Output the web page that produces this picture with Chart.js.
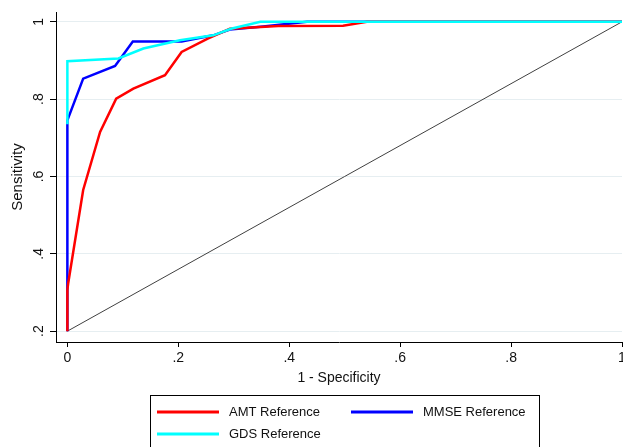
<!DOCTYPE html>
<html>
<head>
<meta charset="utf-8">
<script src="https://cdn.jsdelivr.net/npm/chart.js@4/dist/chart.umd.min.js"></script>
<style>
  body { margin: 0; background: #fff; }
</style>
</head>
<body>
<canvas id="roc" width="623" height="447"></canvas>
<script>
// ROC curves (1 - specificity, sensitivity)
const amtX = [0, 0, 0.0015, 0.0285, 0.059, 0.088, 0.119, 0.176, 0.206, 0.254, 0.293, 0.38, 0.497, 0.54, 1];
const amtY = [0.2, 0.306, 0.324, 0.565, 0.715, 0.801, 0.827, 0.862, 0.922, 0.957, 0.982, 0.989, 0.99, 1, 1];

const mmseX = [0, 0, 0.0285, 0.086, 0.118, 0.206, 0.263, 0.293, 0.353, 0.432, 1];
const mmseY = [0.2, 0.745, 0.853, 0.886, 0.949, 0.949, 0.965, 0.98, 0.988, 1, 1];

const gdsX = [0, 0, 0.092, 0.137, 0.203, 0.263, 0.295, 0.348, 1];
const gdsY = [0.735, 0.898, 0.905, 0.931, 0.952, 0.965, 0.982, 1, 1];

// reference diagonal
const refX = [0, 1];
const refY = [0.2, 1];

const seriesLabels = ['AMT Reference', 'MMSE Reference', 'GDS Reference'];
const tickFmt = v => (v === 0 ? '0' : v === 1 ? '1' : v.toFixed(1).replace(/^0/, ''));

const toPoints = (xs, ys) => xs.map((x, i) => ({ x, y: ys[i] }));

Chart.defaults.font.family = '"Liberation Sans", Arial, sans-serif';
Chart.defaults.color = '#111';

// Stata-style boxed legend under the plot
const boxLegend = {
  id: 'boxLegend',
  afterDraw(chart) {
    const ctx = chart.ctx;
    ctx.save();
    ctx.strokeStyle = '#000';
    ctx.lineWidth = 1;
    ctx.strokeRect(150.5, 395.5, 389, 60);

    const slots = [[157, 412], [351, 412], [157, 434]];
    ctx.font = '13px "Liberation Sans", Arial, sans-serif';
    ctx.textBaseline = 'middle';
    ctx.fillStyle = '#111';
    chart.data.datasets.filter(d => d.inLegend).forEach((ds, i) => {
      const [x, y] = slots[i];
      ctx.strokeStyle = ds.borderColor;
      ctx.lineWidth = 3;
      ctx.beginPath();
      ctx.moveTo(x, y);
      ctx.lineTo(x + 62, y);
      ctx.stroke();
      ctx.fillText(ds.label, x + 72, y);
    });
    ctx.restore();
  }
};

new Chart(document.getElementById('roc'), {
  type: 'scatter',
  data: {
    datasets: [
      { label: seriesLabels[0], data: toPoints(amtX, amtY), borderColor: '#ff0000', order: 2, inLegend: true },
      { label: seriesLabels[1], data: toPoints(mmseX, mmseY), borderColor: '#0000ff', order: 3, inLegend: true },
      { label: seriesLabels[2], data: toPoints(gdsX, gdsY), borderColor: '#00ffff', order: 1, inLegend: true },
      { label: 'Reference', data: toPoints(refX, refY), borderColor: '#404040', borderWidth: 1, order: 4, inLegend: false }
    ].map(d => ({
      showLine: true,
      pointRadius: 0,
      tension: 0,
      borderWidth: 2.5,
      backgroundColor: d.borderColor,
      ...d
    }))
  },
  options: {
    responsive: false,
    animation: false,
    layout: { padding: { top: 12, right: 1, left: 0, bottom: 0 } },
    scales: {
      x: {
        type: 'linear',
        min: -0.0205,
        max: 1,
        ticks: { stepSize: 0.2, includeBounds: false, padding: 3, font: { size: 14 }, callback: tickFmt },
        grid: { drawOnChartArea: false, tickLength: 5, tickColor: '#000' },
        border: { color: '#000', width: 1 },
        title: { display: true, text: '1 - Specificity', font: { size: 14 }, padding: { top: 0, bottom: 60 } },
        afterFit: s => { s.height = 105; s.paddingLeft = 0; s.paddingRight = 0; }
      },
      y: {
        type: 'linear',
        min: 0.172,
        max: 1.0253,
        ticks: {
          stepSize: 0.2, includeBounds: false, padding: 5, font: { size: 14 },
          minRotation: 90, maxRotation: 90, crossAlign: 'center', callback: tickFmt
        },
        grid: { color: '#e6eef1', tickLength: 6, tickColor: '#000' },
        border: { color: '#000', width: 1 },
        title: { display: true, text: 'Sensitivity', font: { size: 15 }, padding: { top: 9, bottom: 0 } },
        afterFit: s => { s.width = 56; s.paddingTop = 0; s.paddingBottom = 0; }
      }
    },
    plugins: {
      legend: { display: false },
      tooltip: { enabled: false }
    }
  },
  plugins: [boxLegend]
});
</script>
</body>
</html>
